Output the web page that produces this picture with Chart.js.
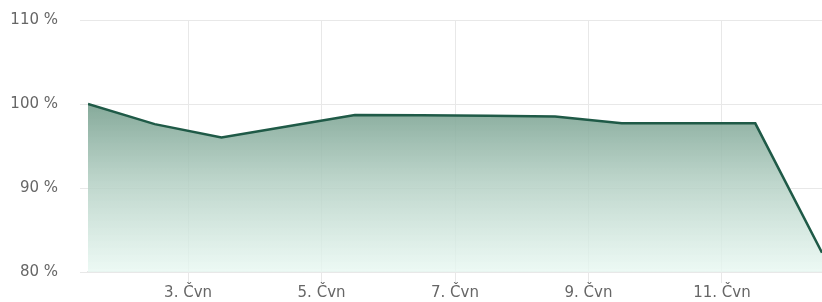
<!DOCTYPE html>
<html lang="cs">
<head>
    <meta charset="UTF-8">
    <title>Graf</title>
    <script src="https://cdnjs.cloudflare.com/ajax/libs/Chart.js/4.4.0/chart.umd.min.js"></script>
    <style>
        html, body {
            margin: 0;
            padding: 0;
            background: #fff;
        }
        .chart-container {
            width: 822px;
            height: 302px;
        }
    </style>
</head>
<body>
    <div class="chart-container">
        <canvas id="chart"></canvas>
    </div>

    <script>
        // dny (poledne každého dne v červnu)
        var days = [1.5, 2.5, 3.5, 4.5, 5.5, 6.5, 7.5, 8.5, 9.5, 10.5, 11.5, 12.5];
        var values = [100, 97.6, 96.0, 97.35, 98.7, 98.65, 98.6, 98.5, 97.7, 97.7, 97.7, 82.3];
        var xTicks = [3, 5, 7, 9, 11];
        var yTicks = [80, 90, 100, 110];
        var monthLabel = 'Čvn';

        var points = days.map(function (d, i) { return { x: d, y: values[i] }; });

        function fillGradient(context) {
            var chart = context.chart;
            var area = chart.chartArea;
            if (!area) return 'rgba(30,90,70,0.3)';
            var g = chart.ctx.createLinearGradient(0, area.top, 0, area.bottom);
            g.addColorStop(0, 'rgba(80,122,104,0.9)');
            g.addColorStop(0.33, 'rgba(120,160,143,0.9)');
            g.addColorStop(0.65, 'rgba(180,208,196,0.85)');
            g.addColorStop(1, 'rgba(232,248,242,0.8)');
            return g;
        }

        var tickFont = { family: "'DejaVu Sans', sans-serif", size: 15 };

        var ctx = document.getElementById('chart').getContext('2d');
        var chart = new Chart(ctx, {
            type: 'line',
            data: {
                datasets: [{
                    data: points,
                    borderColor: '#1f5a47',
                    borderWidth: 2.5,
                    backgroundColor: fillGradient,
                    fill: 'start',
                    pointRadius: 0,
                    tension: 0
                }]
            },
            options: {
                responsive: true,
                maintainAspectRatio: false,
                animation: false,
                layout: { padding: { top: 20, right: 0, left: 0, bottom: 0 } },
                plugins: {
                    legend: { display: false },
                    tooltip: { enabled: false }
                },
                scales: {
                    x: {
                        type: 'linear',
                        min: 1.5,
                        max: 12.5,
                        afterBuildTicks: function (axis) {
                            axis.ticks = xTicks.map(function (v) { return { value: v }; });
                        },
                        afterFit: function (axis) {
                            axis.height = 30;
                            axis.paddingLeft = 0;
                            axis.paddingRight = 0;
                        },
                        ticks: {
                            color: '#666',
                            font: tickFont,
                            maxRotation: 0,
                            padding: 1,
                            callback: function (v) { return v + '. ' + monthLabel; }
                        },
                        grid: { color: '#e8e8e8', tickLength: 11 },
                        border: { color: '#e8e8e8', width: 2 }
                    },
                    y: {
                        min: 80,
                        max: 110,
                        afterBuildTicks: function (axis) {
                            axis.ticks = yTicks.map(function (v) { return { value: v }; });
                        },
                        afterFit: function (axis) {
                            axis.width = 88;
                            axis.paddingTop = 0;
                            axis.paddingBottom = 0;
                        },
                        ticks: {
                            color: '#666',
                            font: tickFont,
                            padding: 22,
                            callback: function (v) { return v + ' %'; }
                        },
                        grid: { color: '#e8e8e8', tickLength: 8 },
                        border: { display: false }
                    }
                }
            }
        });
    </script>
</body>
</html>
